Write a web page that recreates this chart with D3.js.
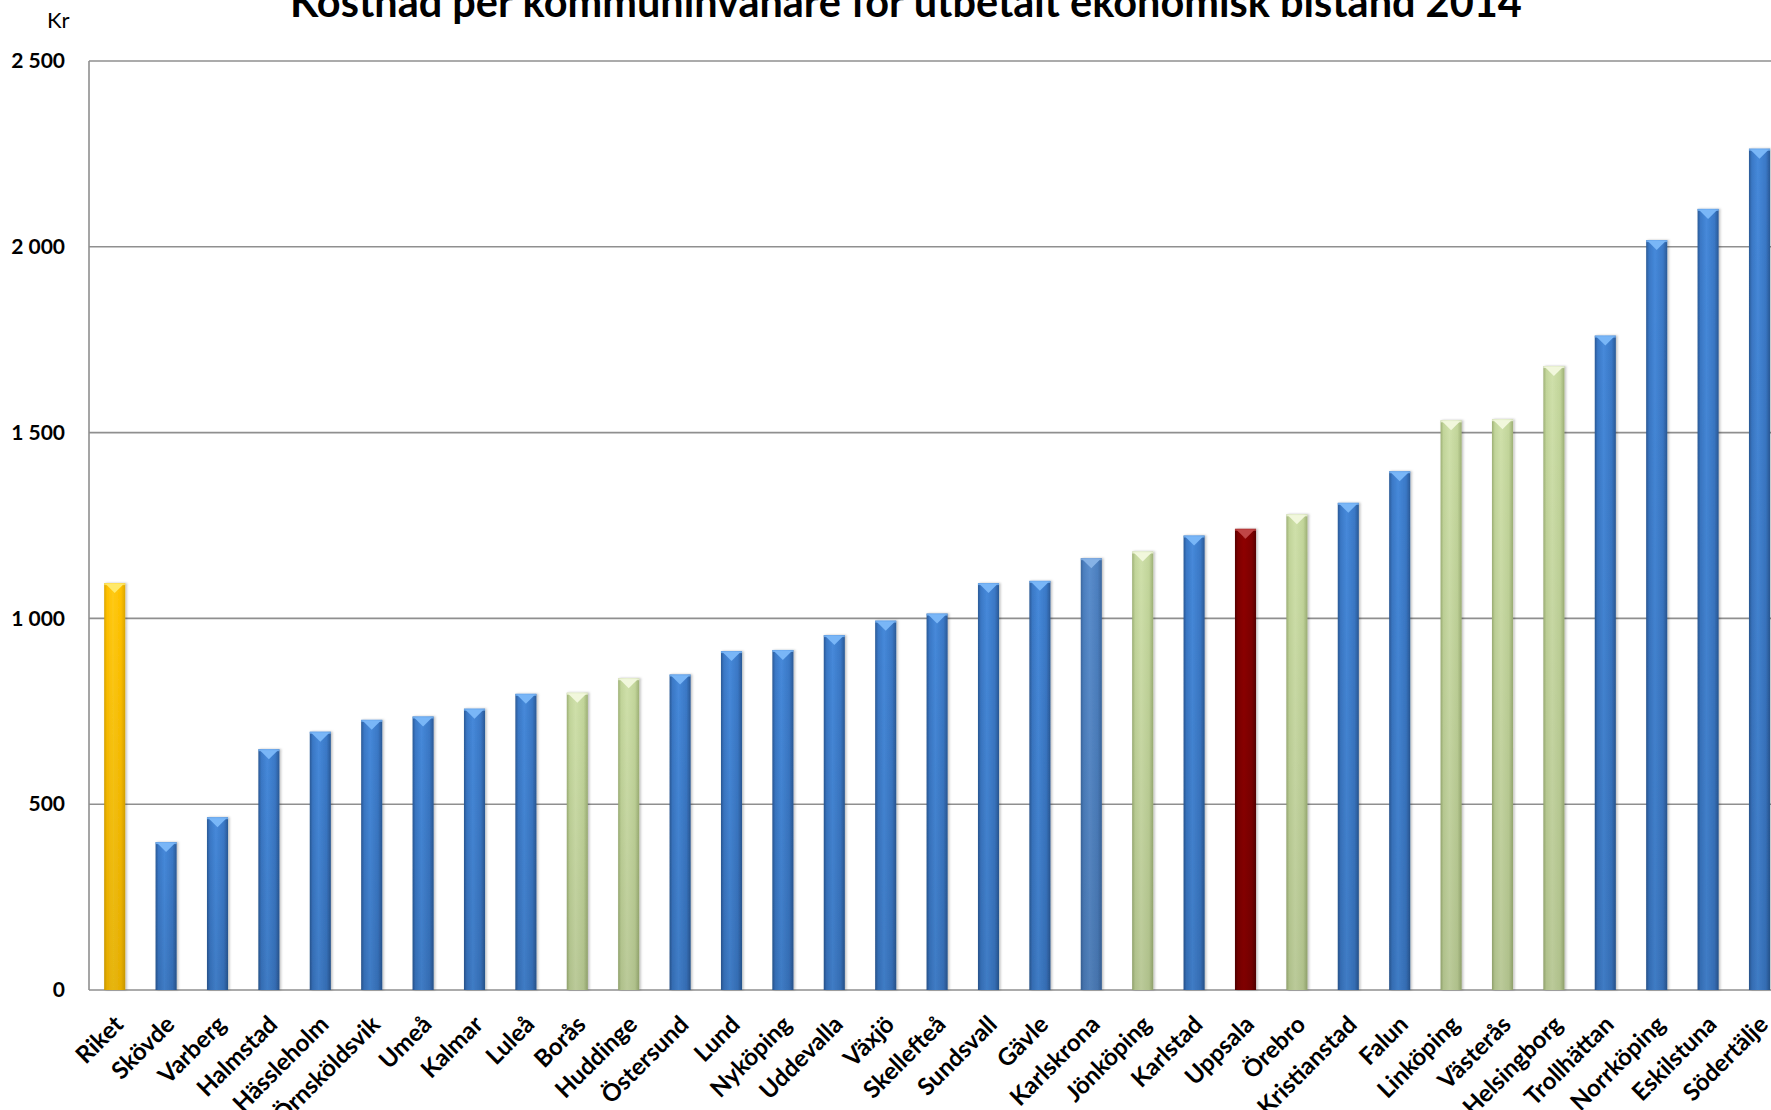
<!DOCTYPE html>
<html>
<head>
<meta charset="utf-8">
<script src="https://cdn.jsdelivr.net/npm/d3@7"></script>
<style>
  body { margin: 0; background: #fff; overflow: hidden; }
  svg { display: block; font-family: Lato, "Open Sans", sans-serif; }
  .tick text { font-weight: bold; fill: #000; }
</style>
</head>
<body>
<svg id="chart"></svg>
<script>
// Kommuner, sorted by kostnad (Riket first)
const kommuner = ['Riket', 'Skövde', 'Varberg', 'Halmstad', 'Hässleholm', 'Örnsköldsvik', 'Umeå',
  'Kalmar', 'Luleå', 'Borås', 'Huddinge', 'Östersund', 'Lund', 'Nyköping', 'Uddevalla', 'Växjö',
  'Skellefteå', 'Sundsvall', 'Gävle', 'Karlskrona', 'Jönköping', 'Karlstad', 'Uppsala', 'Örebro',
  'Kristianstad', 'Falun', 'Linköping', 'Västerås', 'Helsingborg', 'Trollhättan', 'Norrköping',
  'Eskilstuna', 'Södertälje'];

// Kr per invånare
const kostnad = [1095, 398, 465, 648, 695, 727, 736, 757, 797, 800, 839, 849, 912, 915, 955, 994,
  1013, 1095, 1101, 1162, 1180, 1223, 1241, 1280, 1311, 1396, 1533, 1536, 1679, 1761, 2018,
  2102, 2264];

// colour group per bar
const grupp = ['riket', 'blue', 'blue', 'blue', 'blue', 'blue', 'blue', 'blue', 'blue', 'green',
  'green', 'blue', 'blue', 'blue', 'blue', 'blue', 'blue', 'blue', 'blue', 'steel', 'green',
  'blue', 'red', 'green', 'blue', 'blue', 'green', 'green', 'green', 'blue', 'blue', 'blue', 'blue'];

const yTicks = [0, 500, 1000, 1500, 2000, 2500];

const titel = 'Kostnad per kommuninvånare för utbetalt ekonomisk bistånd 2014';

const data = kommuner.map((k, i) => ({ kommun: k, value: kostnad[i], group: grupp[i] }));

// bar shading per group: edge, main, highlight, cap
const palette = {
  blue:  { edge: '#2a5996', main: '#3a78c6', light: '#4689da', cap: '#79b6f7' },
  steel: { edge: '#3b679e', main: '#4c7fbf', light: '#5a8dcc', cap: '#86b2e6' },
  green: { edge: '#9db075', main: '#c2d59a', light: '#cfe0aa', cap: '#f1f7dc' },
  red:   { edge: '#560000', main: '#7e0000', light: '#8e0606', cap: '#c04545' },
  riket: { edge: '#dca600', main: '#ffc000', light: '#ffca14', cap: '#ffe96a' }
};

const width = 1771, height = 1110;
const margin = { left: 89, top: 61 };
const baseY = 990;

const svg = d3.select('#chart')
  .attr('width', width)
  .attr('height', height);

const defs = svg.append('defs');

Object.entries(palette).forEach(([key, c]) => {
  const g = defs.append('linearGradient')
    .attr('id', 'grad-' + key)
    .attr('x1', 0).attr('x2', 1).attr('y1', 0).attr('y2', 0);
  g.append('stop').attr('offset', '0%').attr('stop-color', c.edge);
  g.append('stop').attr('offset', '14%').attr('stop-color', c.main);
  g.append('stop').attr('offset', '42%').attr('stop-color', c.light);
  g.append('stop').attr('offset', '80%').attr('stop-color', c.main);
  g.append('stop').attr('offset', '100%').attr('stop-color', c.edge);
});

// darken a little toward the bottom
const shade = defs.append('linearGradient')
  .attr('id', 'shade')
  .attr('x1', 0).attr('x2', 0).attr('y1', 0).attr('y2', 1);
shade.append('stop').attr('offset', '0%').attr('stop-color', '#000').attr('stop-opacity', 0);
shade.append('stop').attr('offset', '100%').attr('stop-color', '#000').attr('stop-opacity', 0.1);

defs.append('filter')
  .attr('id', 'bar-shadow')
  .attr('x', '-30%').attr('width', '160%')
  .append('feDropShadow')
  .attr('dx', 1.5).attr('dy', 0).attr('stdDeviation', 1.2)
  .attr('flood-color', '#000').attr('flood-opacity', 0.25);

const n = kommuner.length;
const step = 51.4;

const xScale = d3.scaleBand()
  .domain(kommuner)
  .range([margin.left, margin.left + n * step])
  .paddingInner(0.59)
  .paddingOuter(0.295);

const yScale = d3.scaleLinear()
  .domain([0, 2500])
  .range([baseY, margin.top]);

const locale = d3.formatLocale({ decimal: ',', thousands: ' ', grouping: [3], currency: ['', ' kr'] });
const fmt = locale.format(',d');

// gridlines
svg.append('g')
  .selectAll('line')
  .data(yTicks)
  .join('line')
  .attr('x1', margin.left)
  .attr('x2', width)
  .attr('y1', d => yScale(d))
  .attr('y2', d => yScale(d))
  .attr('stroke', '#8f8f8f')
  .attr('stroke-width', 1.6);

// left border of plot area
svg.append('line')
  .attr('x1', margin.left).attr('x2', margin.left)
  .attr('y1', yScale(2500)).attr('y2', yScale(0))
  .attr('stroke', '#8f8f8f')
  .attr('stroke-width', 1.6);

// y axis labels
const yAxis = d3.axisLeft(yScale)
  .tickValues(yTicks)
  .tickFormat(fmt)
  .tickSize(0)
  .tickPadding(24);

svg.append('g')
  .attr('transform', `translate(${margin.left},0)`)
  .call(yAxis)
  .call(g => g.select('.domain').remove())
  .selectAll('text')
  .attr('font-size', 21)
  .attr('font-family', 'Lato, sans-serif');

// bars
const bars = svg.append('g')
  .selectAll('g.bar')
  .data(data)
  .join('g')
  .attr('class', 'bar')
  .attr('filter', 'url(#bar-shadow)');

bars.append('rect')
  .attr('x', d => xScale(d.kommun))
  .attr('y', d => yScale(d.value))
  .attr('width', xScale.bandwidth())
  .attr('height', d => yScale(0) - yScale(d.value))
  .attr('fill', d => `url(#grad-${d.group})`);

bars.append('rect')
  .attr('x', d => xScale(d.kommun))
  .attr('y', d => yScale(d.value))
  .attr('width', xScale.bandwidth())
  .attr('height', d => yScale(0) - yScale(d.value))
  .attr('fill', 'url(#shade)');

// bevelled top: light band plus a downward triangle
const capH = 9;
bars.append('rect')
  .attr('x', d => xScale(d.kommun))
  .attr('y', d => yScale(d.value))
  .attr('width', xScale.bandwidth())
  .attr('height', 2)
  .attr('fill', d => palette[d.group].cap)
  .attr('opacity', 0.8);

bars.append('path')
  .attr('d', d => {
    const x0 = xScale(d.kommun) + 1.5;
    const x1 = xScale(d.kommun) + xScale.bandwidth() - 1.5;
    const y0 = yScale(d.value) + 1;
    return `M${x0},${y0} L${x1},${y0} L${(x0 + x1) / 2},${y0 + capH} Z`;
  })
  .attr('fill', d => palette[d.group].cap);

// x labels
svg.append('g')
  .selectAll('text')
  .data(data)
  .join('text')
  .attr('transform', d => {
    const cx = xScale(d.kommun) + xScale.bandwidth() / 2 + 10;
    return `translate(${cx},1026) rotate(-45)`;
  })
  .attr('text-anchor', 'end')
  .attr('font-size', 24)
  .attr('font-weight', 'bold')
  .attr('fill', '#000')
  .text(d => d.kommun);

// unit label
svg.append('text')
  .attr('x', 47)
  .attr('y', 28)
  .attr('font-size', 22)
  .attr('fill', '#000')
  .text('Kr');

// title, fitted to the width seen in the picture (its top is cut off in the reference too)
const title = svg.append('text')
  .attr('x', 290)
  .attr('y', 17)
  .attr('font-size', 36)
  .attr('font-weight', 'bold')
  .attr('fill', '#000')
  .text(titel);
const tw = title.node().getComputedTextLength();
title.attr('font-size', 36 * 1232 / tw);
</script>
</body>
</html>
